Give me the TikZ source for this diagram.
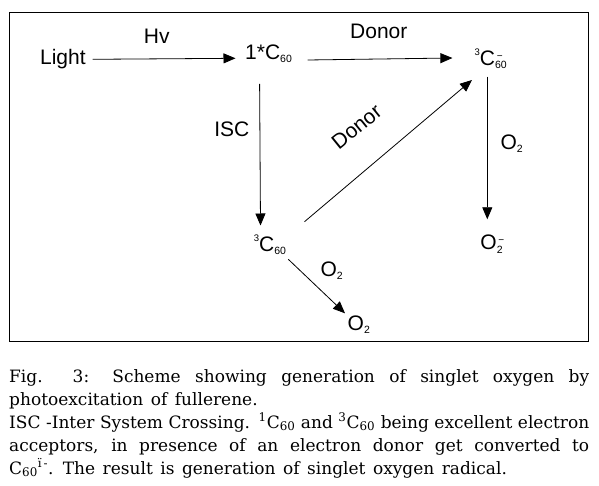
\documentclass[tikz,border=0pt]{standalone}
\usepackage{fontspec}
\setmainfont{DejaVu Serif}
\newfontfamily\diagfont{Liberation Sans}
\usetikzlibrary{arrows.meta}

% small indices for the species
\newcommand{\lowtxt}[1]{\raisebox{-3pt}{\fontsize{10.5}{10.5}\selectfont #1}}
\newcommand{\hightxt}[1]{\raisebox{10.5pt}{\fontsize{9.5}{9.5}\selectfont #1}}
\newcommand{\minustxt}{\raisebox{6pt}{\fontsize{10}{10}\selectfont\,−}}

\begin{document}
\begin{tikzpicture}[x=1pt,y=-1pt,
  lbl/.style={font=\diagfont\fontsize{21}{21}\selectfont, inner sep=0pt, anchor=base},
  rxn/.style={line width=0.8pt, -{Triangle[length=12pt,width=10pt]}}]

  \useasboundingbox[fill=white] (0,0) rectangle (599,486);

  % frame round the scheme
  \draw[line width=0.9pt] (9,12) rectangle (588,341);

  % species
  \node[lbl] (light) at (62.9,64.3) {Light};
  \node[lbl] (sing) at (268.5,59.3) {1*C\lowtxt{60}};
  \node[lbl] (anion) at (490.7,66) {\hightxt{3}C\rlap{\minustxt}\lowtxt{60}};
  \node[lbl] (trip) at (270,251.5) {\hightxt{3}C\lowtxt{60}};
  \node[lbl] (superox) at (491.5,250) {O\rlap{\minustxt}\lowtxt{2}};
  \node[lbl] (otwoc) at (358.8,330) {O\lowtxt{2}};

  % labels on the arrows
  \node[lbl] (hv) at (156.7,44) {Hv};
  \node[lbl] (donortop) at (378.8,38.5) {Donor};
  \node[lbl] (isc) at (231.8,136.7) {ISC};
  \node[lbl,anchor=center,rotate=39] (donordiag) at (356.5,127) {Donor};
  \node[lbl] (otwoa) at (511.7,149.3) {O\lowtxt{2}};
  \node[lbl] (otwob) at (331.7,276) {O\lowtxt{2}};

  % reaction arrows
  \draw[rxn] ([shift={(29.8pt,5pt)}]light.base) -- ([shift={(-33pt,1pt)}]sing.base);
  \draw[rxn] ([shift={(39.2pt,-0.7pt)}]sing.base) -- ([shift={(-38.3pt,8pt)}]anion.base);
  \draw[rxn] ([shift={(-8.9pt,-24.7pt)}]sing.base) -- ([shift={(-9.5pt,26pt)}]trip.base);
  \draw[rxn] ([shift={(34.5pt,29.8pt)}]trip.base) -- ([shift={(-18.7pt,-14pt)}]anion.base);
  \draw[rxn] ([shift={(-3.4pt,-10.7pt)}]anion.base) -- ([shift={(-4.2pt,30.7pt)}]superox.base);
  \draw[rxn] ([shift={(18.3pt,-7.8pt)}]trip.base) -- ([shift={(-13.8pt,16.7pt)}]otwoc.base);

  % caption
  \node[inner sep=0pt,anchor=north west,text width=580pt,align=justify,
        font=\fontsize{17}{23}\selectfont] (caption) at (9,369)
   {\setlength{\parindent}{0pt}\spaceskip=7.5pt plus 8pt minus 2.5pt
    Fig. 3: Scheme showing generation of singlet oxygen by\linebreak
    photoexcitation of fullerene.\par
    ISC -Inter System Crossing. \textsuperscript{1}C\textsubscript{60} and \textsuperscript{3}C\textsubscript{60} being excellent electron\linebreak
    acceptors, in presence of an electron donor get converted to\linebreak
    C\textsubscript{60}\textsuperscript{ï\,-}. The result is generation of singlet oxygen radical.};
\end{tikzpicture}
\end{document}
